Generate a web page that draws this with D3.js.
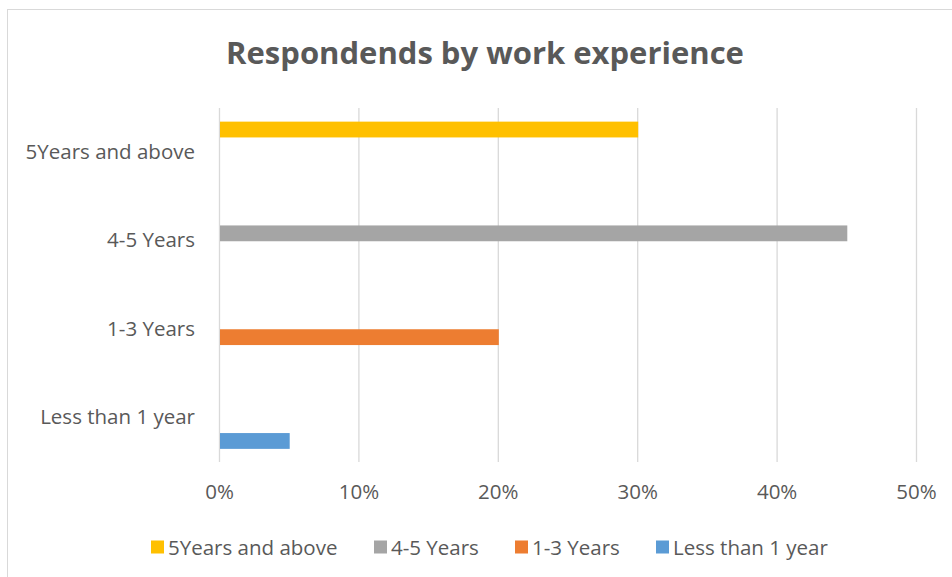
<!DOCTYPE html>
<head>
    <meta charset="utf-8">
    <title>Respondends by work experience</title>
    <style>
        body { margin: 0; background: #fff; }
        svg text { font-family: "Open Sans", sans-serif; fill: #595959; }
    </style>
</head>
<body>
    <div id="chart"></div>
    <script src="https://d3js.org/d3.v7.min.js"></script>
    <script>
        // categories, top to bottom
        var categories = ["5Years and above", "4-5 Years", "1-3 Years", "Less than 1 year"];
        // series in legend order
        var seriesNames = ["5Years and above", "4-5 Years", "1-3 Years", "Less than 1 year"];
        var seriesColors = ["#FFC000", "#A5A5A5", "#ED7D31", "#5B9BD5"];
        // value of each series per category (only the matching one is filled)
        var seriesValues = [
            [0.30, 0, 0, 0],
            [0, 0.45, 0, 0],
            [0, 0, 0.20, 0],
            [0, 0, 0, 0.05]
        ];
        var xTicks = [0, 0.1, 0.2, 0.3, 0.4, 0.5];

        var W = 952, H = 577;
        var margin = {top: 108, right: 36, bottom: 115, left: 219};
        var width = W - margin.left - margin.right,
            height = H - margin.top - margin.bottom;
        var fontSize = "20.5px";

        var svg = d3.select("#chart").append("svg")
            .attr("width", W)
            .attr("height", H);

        // chart frame
        svg.append("rect")
            .attr("x", 7.5).attr("y", 9.5)
            .attr("width", W + 10).attr("height", H + 10)
            .attr("fill", "none")
            .attr("stroke", "#d9d9d9");

        svg.append("text")
            .attr("x", 485).attr("y", 52)
            .attr("text-anchor", "middle")
            .attr("dominant-baseline", "central")
            .style("font-size", "31px")
            .style("font-weight", "bold")
            .text("Respondends by work experience");

        var g = svg.append("g")
            .attr("transform", "translate(" + margin.left + "," + margin.top + ")");

        var x = d3.scaleLinear().domain([0, 0.5]).range([0, width]);
        var y0 = d3.scaleBand().domain(categories).range([0, height]);
        var y1 = d3.scaleBand().domain(seriesNames).range([0, y0.bandwidth()])
            .paddingInner(0).paddingOuter(0.89);

        // gridlines
        g.selectAll(".grid")
            .data(xTicks)
            .enter().append("line")
            .attr("x1", d => x(d) + 0.5).attr("x2", d => x(d) + 0.5)
            .attr("y1", 0).attr("y2", height)
            .attr("stroke", "#d9d9d9")
            .attr("stroke-width", 1.3);

        // bars
        seriesNames.forEach(function (s, i) {
            g.selectAll(".bar" + i)
                .data(seriesValues[i].map((v, j) => ({cat: categories[j], value: v})))
                .enter().append("rect")
                .attr("x", x(0) + 1)
                .attr("y", d => y0(d.cat) + y1(s))
                .attr("width", d => Math.max(0, x(d.value) - x(0)))
                .attr("height", y1.bandwidth() + 0.5)
                .attr("fill", seriesColors[i]);
        });

        // x axis
        var xAxis = g.append("g")
            .attr("transform", "translate(0," + height + ")")
            .call(d3.axisBottom(x).tickValues(xTicks).tickFormat(d3.format(".0%")).tickSize(0).tickPadding(22));
        xAxis.select(".domain").remove();
        xAxis.selectAll("text").style("font-size", fontSize).attr("fill", "#595959");

        // y axis
        var yAxis = g.append("g")
            .call(d3.axisLeft(y0).tickSize(0).tickPadding(24));
        yAxis.select(".domain").remove();
        yAxis.selectAll("text").style("font-size", fontSize).attr("fill", "#595959");

        // legend
        var legendX = [151, 374, 515, 656];
        var legend = svg.selectAll(".legend")
            .data(seriesNames)
            .enter().append("g")
            .attr("transform", (d, i) => "translate(" + legendX[i] + ",547)");
        legend.append("rect")
            .attr("x", 0).attr("y", -6.5)
            .attr("width", 13).attr("height", 13)
            .attr("fill", (d, i) => seriesColors[i]);
        legend.append("text")
            .attr("x", 17).attr("y", 0)
            .attr("dominant-baseline", "central")
            .style("font-size", fontSize)
            .text(d => d);
    </script>
</body>
</html>
